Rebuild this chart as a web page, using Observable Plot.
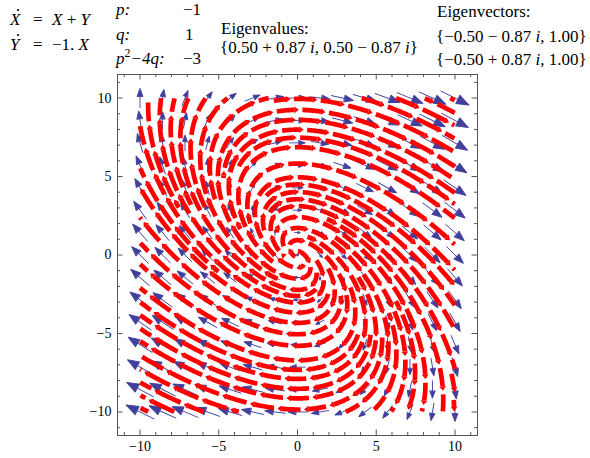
<!DOCTYPE html>
<html><head><meta charset="utf-8">
<script src="https://cdn.jsdelivr.net/npm/d3@7"></script>
<script src="https://cdn.jsdelivr.net/npm/@observablehq/plot@0.6"></script>
<style>
body{margin:0;background:#fff;}
#wrap{position:relative;width:590px;height:458px;}
#wrap svg{position:absolute;left:0;top:0;}
</style></head><body><div id="wrap"></div>
<script>
// ---- system X' = a X + b Y, Y' = c X + d Y ----
const systemRow1 = [1, 1];
const systemRow2 = [-1, 0];
// vector grid (15 x 15 points on [-10, 10])
const gridCoords = [-10, -8.571, -7.143, -5.714, -4.286, -2.857, -1.429, 0, 1.429, 2.857, 4.286, 5.714, 7.143, 8.571, 10];
const streamRegion = [-10, 10];
const streamSeeds = [[0.45, 0], [-0.45, 0]];
const majorTicks = [-10, -5, 0, 5, 10];
const minorTicks = [-11, -9, -8, -7, -6, -4, -3, -2, -1, 1, 2, 3, 4, 6, 7, 8, 9, 11];
// header texts
const eqLines = [
  {lhs: "X", rhs: [["X", true], [" + ", false], ["Y", true]]},
  {lhs: "Y", rhs: [["−1. ", false], ["X", true]]}
];
const pqLabels = ["p:", "q:", "p²−4q:"];
const pqValues = ["−1", "1", "−3"];
const eigenTitle = "Eigenvalues:";
const eigenValues = "{0.50 + 0.87 i, 0.50 − 0.87 i}";
const vecTitle = "Eigenvectors:";
const eigenVectors = ["{−0.50 − 0.87 i, 1.00}", "{−0.50 + 0.87 i, 1.00}"];

const BLUE = "#40409c", RED = "#ff0000", FRAME = "#555";
const W = 590, H = 458, mL = 117, mR = 113, mT = 74, mB = 23;
const xDom = [-11.43, 11.43], yDom = [-11.5, 11.5];
const Kx = (W - mL - mR) / (xDom[1] - xDom[0]);
const Ky = (H - mT - mB) / (yDom[1] - yDom[0]);

const field = (x, y) => [systemRow1[0] * x + systemRow1[1] * y, systemRow2[0] * x + systemRow2[1] * y];

// ---- blue vector arrows ----
const blue = [], zeroes = [];
for (const gx of gridCoords) for (const gy of gridCoords) {
  const v = field(gx, gy), m = Math.hypot(v[0], v[1]);
  if (m < 1e-9) { zeroes.push({x: gx, y: gy}); continue; }
  blue.push({x: gx, y: gy, L: 4.7 * Math.pow(m, 0.61), rot: Math.atan2(v[0] * Kx, v[1] * Ky) * 180 / Math.PI});
}
const blueShape = {draw(ctx, l) {
  const hl = 0.4 * l, hw = 0.15 * l;
  ctx.moveTo(0, 0); ctx.lineTo(0, -(l - hl));
  ctx.moveTo(-hw, -(l - hl)); ctx.lineTo(0, -l); ctx.lineTo(hw, -(l - hl)); ctx.closePath();
}};

// ---- evenly spaced streamlines ----
const R = streamRegion[1];
const dsep = 0.7, dtest = 0.35, h = 0.045;
const cs = dtest, cells = new Map();
const ckey = (i, j) => i * 10000 + j;
function addPt(x, y) {
  const k = ckey(Math.floor((x + R) / cs), Math.floor((y + R) / cs));
  if (!cells.has(k)) cells.set(k, []);
  cells.get(k).push([x, y]);
}
function isNear(x, y, d) {
  const i = Math.floor((x + R) / cs), j = Math.floor((y + R) / cs), rr = Math.ceil(d / cs);
  for (let di = -rr; di <= rr; di++) for (let dj = -rr; dj <= rr; dj++) {
    const arr = cells.get(ckey(i + di, j + dj)); if (!arr) continue;
    for (const p of arr) if ((p[0] - x) ** 2 + (p[1] - y) ** 2 < d * d) return true;
  }
  return false;
}
function dir(x, y, s) { const v = field(x, y), m = Math.hypot(v[0], v[1]); return m < 1e-9 ? null : [s * v[0] / m, s * v[1] / m]; }
function rk4(x, y, s) {
  const k1 = dir(x, y, s); if (!k1) return null;
  const k2 = dir(x + h / 2 * k1[0], y + h / 2 * k1[1], s); if (!k2) return null;
  const k3 = dir(x + h / 2 * k2[0], y + h / 2 * k2[1], s); if (!k3) return null;
  const k4 = dir(x + h * k3[0], y + h * k3[1], s); if (!k4) return null;
  return [x + h / 6 * (k1[0] + 2 * k2[0] + 2 * k3[0] + k4[0]), y + h / 6 * (k1[1] + 2 * k2[1] + 2 * k3[1] + k4[1])];
}
function trace(x0, y0, s) {
  const pts = []; let x = x0, y = y0;
  for (let k = 0; k < 5000; k++) {
    const nx = rk4(x, y, s); if (!nx) break;
    [x, y] = nx;
    if (Math.abs(x) > R || Math.abs(y) > R) break;
    const v = field(x, y); if (Math.hypot(v[0], v[1]) < 0.25) break;
    if (isNear(x, y, dtest)) break;
    pts.push([x, y]);
  }
  return pts;
}
const lines = [];
const queue = streamSeeds.map(d => d.slice());
function tryLine(sx, sy) {
  if (Math.abs(sx) > R || Math.abs(sy) > R) return;
  if (isNear(sx, sy, dsep * 0.98)) return;
  const back = trace(sx, sy, -1).reverse(), fwd = trace(sx, sy, 1);
  const pts = [...back, [sx, sy], ...fwd];
  if (pts.length < 8) return;
  lines.push(pts);
  for (const p of pts) addPt(p[0], p[1]);
  for (let i = 1; i < pts.length - 1; i += 8) {
    const tx = pts[i + 1][0] - pts[i - 1][0], ty = pts[i + 1][1] - pts[i - 1][1], tm = Math.hypot(tx, ty);
    const nx = -ty / tm, ny = tx / tm;
    queue.push([pts[i][0] + dsep * nx, pts[i][1] + dsep * ny]);
    queue.push([pts[i][0] - dsep * nx, pts[i][1] - dsep * ny]);
  }
}
while (queue.length) { const s = queue.shift(); tryLine(s[0], s[1]); }
for (let gx = -R + 0.2; gx <= R; gx += 0.35) for (let gy = -R + 0.2; gy <= R; gy += 0.35) {
  tryLine(gx, gy);
  while (queue.length) { const s = queue.shift(); tryLine(s[0], s[1]); }
}

// ---- dash the streamlines into arrow segments ----
const HL = 4.5, HW = 3.3, GAP = 3.5;
const redPts = [], heads = [];
let segId = 0;
lines.forEach((pts, li) => {
  const s = [0];
  for (let i = 1; i < pts.length; i++) s.push(s[i - 1] + Math.hypot((pts[i][0] - pts[i - 1][0]) * Kx, (pts[i][1] - pts[i - 1][1]) * Ky));
  const total = s[s.length - 1];
  let ptr = 0;
  const idxAt = (a) => { while (ptr < s.length - 2 && s[ptr + 1] < a) ptr++; return ptr; };
  const pointAt = (a) => {
    const i = idxAt(a), t = s[i + 1] > s[i] ? Math.max(0, Math.min(1, (a - s[i]) / (s[i + 1] - s[i]))) : 0;
    return [pts[i][0] + t * (pts[i + 1][0] - pts[i][0]), pts[i][1] + t * (pts[i + 1][1] - pts[i][1]), i];
  };
  let pos = -((li * 7.3) % 20);
  while (pos < total) {
    const a = Math.max(pos, 0);
    const p0 = pointAt(a);
    const v = field(p0[0], p0[1]), sp = Math.hypot(v[0], v[1]);
    const S = Math.min(32, Math.max(18, 17 + 0.65 * sp));
    const b = pos + S, lineEnd = b - HL;
    if (lineEnd > a) {
      const e = Math.min(lineEnd, total);
      redPts.push({x: p0[0], y: p0[1], seg: segId});
      for (let i = p0[2] + 1; i < s.length && s[i] < e; i += 2) redPts.push({x: pts[i][0], y: pts[i][1], seg: segId});
      ptr = p0[2];
      const p1 = pointAt(e);
      redPts.push({x: p1[0], y: p1[1], seg: segId});
      segId++;
      if (b <= total) {
        const i = p1[2];
        const dx = pts[i + 1][0] - pts[i][0], dy = pts[i + 1][1] - pts[i][1];
        heads.push({x: p1[0], y: p1[1], rot: Math.atan2(dx * Kx, dy * Ky) * 180 / Math.PI});
      }
    }
    pos = b + GAP;
  }
});
const headShape = {draw(ctx, l) { ctx.moveTo(-HW, 0); ctx.lineTo(0, -l); ctx.lineTo(HW, 0); ctx.closePath(); }};

const plotH = H - mT - mB, plotW = W - mL - mR;
const chart = Plot.plot({
  width: W, height: H, marginLeft: mL, marginRight: mR, marginTop: mT, marginBottom: mB,
  x: {domain: xDom}, y: {domain: yDom},
  length: {type: "identity"},
  style: {fontFamily: "'Liberation Serif', 'Times New Roman', serif", fontSize: "14px", color: "#000", background: "transparent", overflow: "visible"},
  marks: [
    Plot.vector(blue, {x: "x", y: "y", length: "L", rotate: "rot", anchor: "middle", shape: blueShape, stroke: BLUE, fill: BLUE, strokeWidth: 0.9}),
    Plot.dot(zeroes, {x: "x", y: "y", r: 1.4, fill: BLUE}),
    Plot.line(redPts, {x: "x", y: "y", z: "seg", stroke: RED, strokeWidth: 4.7, strokeLinecap: "butt", strokeLinejoin: "round"}),
    Plot.vector(heads, {x: "x", y: "y", rotate: "rot", length: HL, anchor: "start", shape: headShape, fill: RED, stroke: "none"}),
    Plot.frame({stroke: FRAME}),
    Plot.tickX(minorTicks, {x: d => d, insetTop: plotH - 3, stroke: FRAME}),
    Plot.tickX(minorTicks, {x: d => d, insetBottom: plotH - 3, stroke: FRAME}),
    Plot.tickX(majorTicks, {x: d => d, insetTop: plotH - 5.5, stroke: FRAME}),
    Plot.tickX(majorTicks, {x: d => d, insetBottom: plotH - 5.5, stroke: FRAME}),
    Plot.tickY(minorTicks, {y: d => d, insetRight: plotW - 3, stroke: FRAME}),
    Plot.tickY(minorTicks, {y: d => d, insetLeft: plotW - 3, stroke: FRAME}),
    Plot.tickY(majorTicks, {y: d => d, insetRight: plotW - 5.5, stroke: FRAME}),
    Plot.tickY(majorTicks, {y: d => d, insetLeft: plotW - 5.5, stroke: FRAME}),
    Plot.axisX(majorTicks, {anchor: "bottom", tickSize: 0, tickPadding: 6, label: null, fill: "#000"}),
    Plot.axisY(majorTicks, {anchor: "left", tickSize: 0, tickPadding: 6, label: null, fill: "#000"})
  ]
});
const wrap = document.getElementById("wrap");
wrap.appendChild(chart);

// ---- header text overlay ----
const ov = d3.select(wrap).append("svg").attr("width", W).attr("height", 80)
  .style("font-family", "'Liberation Serif', 'Times New Roman', serif").style("font-size", "17px");
const eqBase = [25, 50];
eqLines.forEach((e, i) => {
  ov.append("text").attr("x", 10).attr("y", eqBase[i]).style("font-style", "italic").text(e.lhs);
  ov.append("circle").attr("cx", 18).attr("cy", eqBase[i] - 15).attr("r", 1.1).attr("fill", "#000");
  ov.append("text").attr("x", 33).attr("y", eqBase[i]).text("=");
  const t = ov.append("text").attr("x", 52).attr("y", eqBase[i]).style("white-space", "pre");
  e.rhs.forEach(([s, it]) => t.append("tspan").style("font-style", it ? "italic" : "normal").text(s));
});
const pqBase = [15, 40, 64];
pqLabels.forEach((lab, i) => {
  const t = ov.append("text").attr("x", 116).attr("y", pqBase[i]).style("font-style", "italic");
  if (lab.includes("²")) {
    t.append("tspan").text("p");
    t.append("tspan").attr("dy", -7).style("font-size", "12px").style("font-style", "normal").text("2");
    t.append("tspan").attr("dy", 7).text("−4q:");
  } else t.text(lab);
  ov.append("text").attr("x", pqValues[i] === "1" ? 185 : 183).attr("y", pqBase[i]).text(pqValues[i]);
});
function mathText(x, y, str) {
  const t = ov.append("text").attr("x", x).attr("y", y).style("white-space", "pre");
  str.split(/(i)(?=[,}])/).forEach(part => {
    if (part === "i") t.append("tspan").style("font-style", "italic").text("i");
    else t.append("tspan").text(part);
  });
}
ov.append("text").attr("x", 221).attr("y", 34).text(eigenTitle);
mathText(220, 53, eigenValues);
ov.append("text").attr("x", 437).attr("y", 17).text(vecTitle);
mathText(436, 42, eigenVectors[0]);
mathText(436, 65, eigenVectors[1]);
</script></body></html>
